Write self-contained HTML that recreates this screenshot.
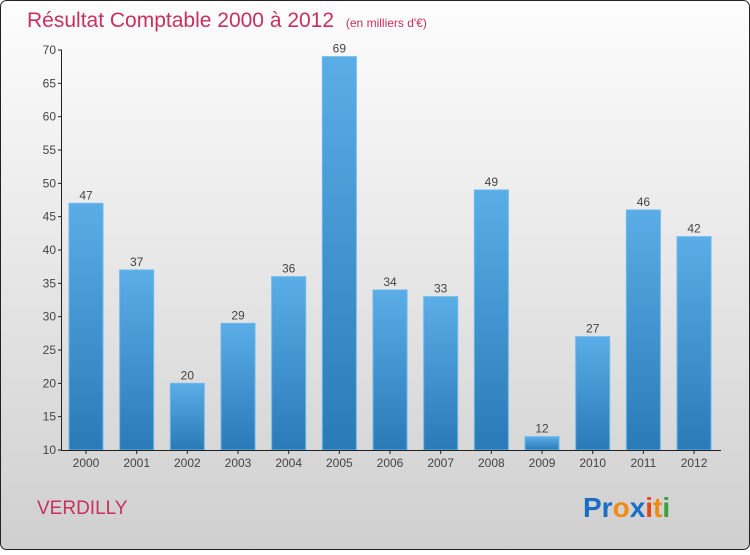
<!DOCTYPE html>
<html><head><meta charset="utf-8"><style>
body{margin:0;width:750px;height:550px;overflow:hidden;font-family:"Liberation Sans",sans-serif}
</style></head><body>
<svg width="750" height="550" xmlns="http://www.w3.org/2000/svg">
<defs>
<linearGradient id="bg" x1="0" y1="0" x2="0" y2="1"><stop offset="0" stop-color="#fdfdfd"/><stop offset="1" stop-color="#cfcfcf"/></linearGradient>
<linearGradient id="bar" x1="0" y1="0" x2="0" y2="1"><stop offset="0" stop-color="#5aade6"/><stop offset="1" stop-color="#2a7ab8"/></linearGradient>
</defs>
<rect x="0.5" y="0.5" width="749" height="549" rx="6" fill="url(#bg)" stroke="#222"/>
<text x="27" y="27" font-size="21" fill="#c8305f">Résultat Comptable 2000 à 2012 <tspan font-size="12" dx="6">(en milliers d'€)</tspan></text>
<g id="plot"></g>
<text x="37" y="514" font-size="19" fill="#c8305f">VERDILLY</text>
<text x="583" y="517" font-size="28" font-weight="bold"><tspan fill="#1a6fc4">Pr</tspan><tspan fill="#f08a12">o</tspan><tspan fill="#1a6fc4">x</tspan><tspan fill="#e8451c">i</tspan><tspan fill="#f08a12">t</tspan><tspan fill="#3aa03a">i</tspan></text>
</svg>
<script>
const categories=["2000","2001","2002","2003","2004","2005","2006","2007","2008","2009","2010","2011","2012"];
const values=[47,37,20,29,36,69,34,33,49,12,27,46,42];
const yTicks=[10,15,20,25,30,35,40,45,50,55,60,65,70];
const NS="http://www.w3.org/2000/svg";
const g=document.getElementById('plot');
const y=v=>450-(v-10)*400/60;
const x=i=>86+i*50.67;
function el(t,a,p){const e=document.createElementNS(NS,t);for(const k in a)e.setAttribute(k,a[k]);(p||g).appendChild(e);return e;}
categories.forEach((c,i)=>{
 const r=el('rect',{x:x(i)-17,y:y(values[i]),width:34,height:450-y(values[i]),fill:'url(#bar)',stroke:'#6bb8ec','stroke-width':1});
 
 
 const t=el('text',{x:x(i),y:y(values[i])-4,'font-size':12,fill:'#444','text-anchor':'middle'});t.textContent=values[i];
 
 
 const l=el('text',{x:x(i),y:467,'font-size':12,fill:'#444','text-anchor':'middle'});l.textContent=c;
 
 
 el('line',{x1:x(i),x2:x(i),y1:450,y2:454,stroke:'#222'});
});
yTicks.forEach(v=>{
 el('line',{x1:58,x2:62,y1:y(v),y2:y(v),stroke:'#222'});
 const t=el('text',{x:56,y:y(v)+4,'font-size':12,fill:'#444','text-anchor':'end'});t.textContent=v;
 
 
});
const ya=el('line',{x1:61.5,x2:61.5,y1:50,y2:450,stroke:'#222'});


const xa=el('line',{x1:61,x2:721,y1:450.5,y2:450.5,stroke:'#222'});


</script>
</body></html>
